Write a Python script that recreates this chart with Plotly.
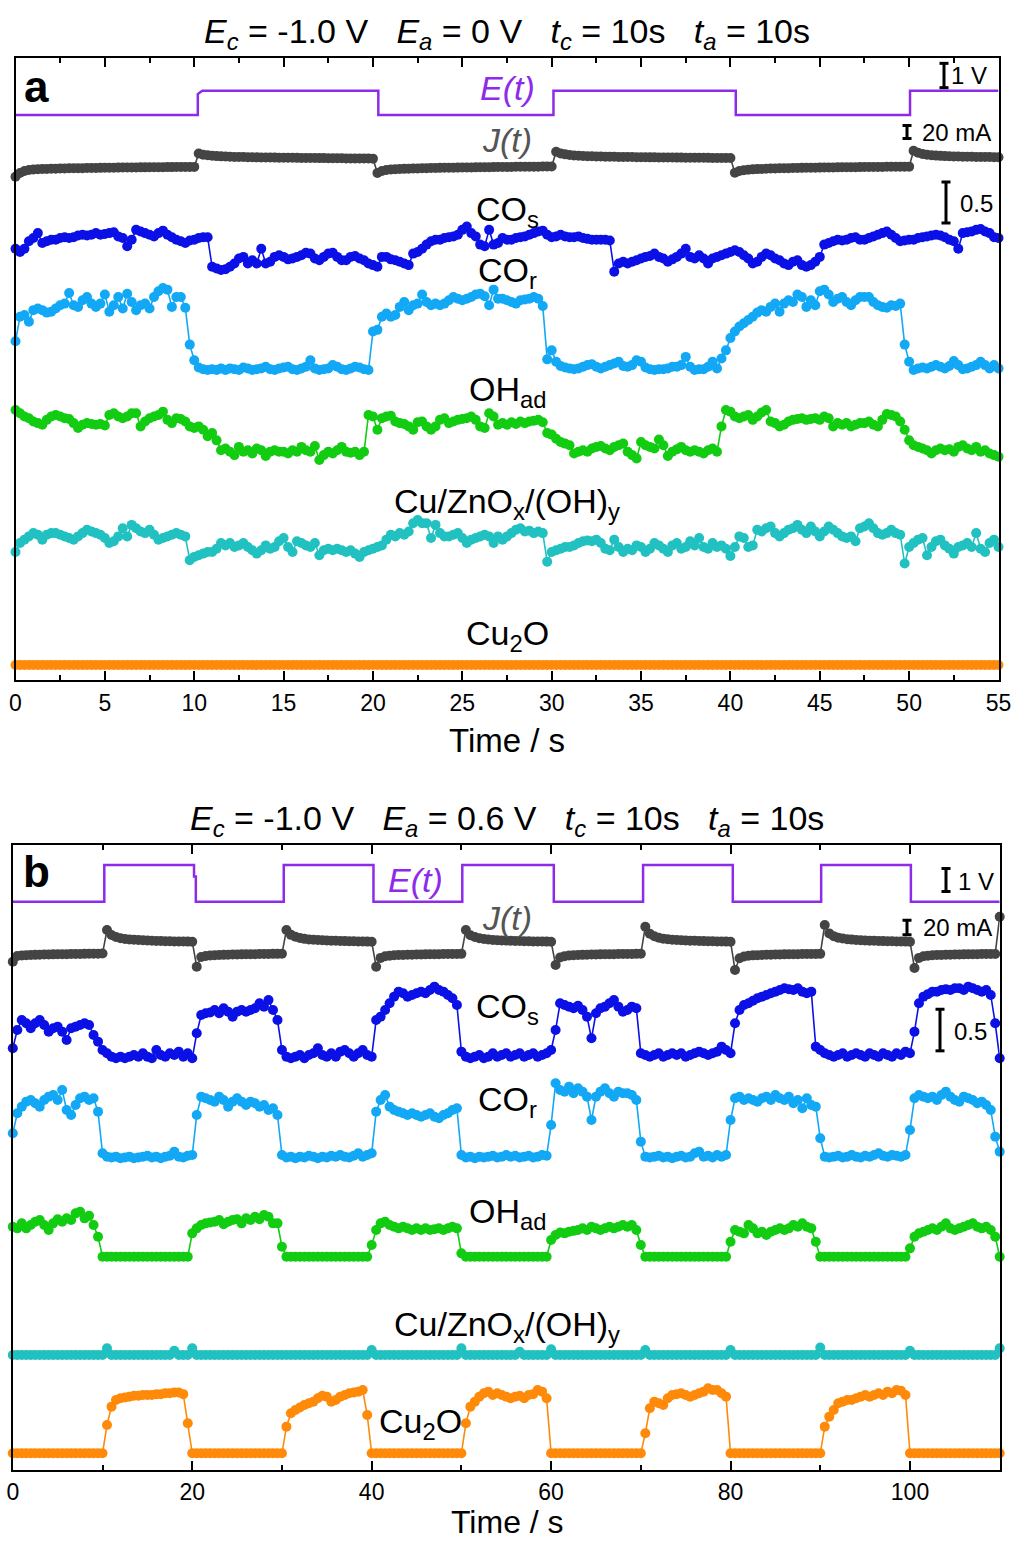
import numpy as np
import plotly.graph_objects as go

W, H = 1014, 1544
FONT = "Liberation Sans, Arial, sans-serif"

# ---------------- sampling ----------------
DT_A, N_A = 0.25, 221          # panel a: 0 ... 55 s
DT_B, N_B = 0.5, 221           # panel b: 0 ... 110 s
TIME_A = np.round(np.arange(N_A) * DT_A, 3)
TIME_B = np.round(np.arange(N_B) * DT_B, 3)

# ---------------- panel a (Ec = -1.0 V, Ea = 0 V) ----------------
# applied potential E(t) in V (step breakpoints)
E_A_T = [0, 10.2, 10.2, 10.45, 20.3, 20.3, 30.1, 30.1, 40.3, 40.3, 50.05, 50.05, 55]
E_A_V = [-1.0, -1.0, -0.14, 0.0, 0.0, -1.0, -1.0, 0.0, 0.0, -1.0, -1.0, 0.0, 0.0]

# current J(t) in mA
J_A = [
    -38.4, -32.7, -29.6, -28.1, -27.3, -27.0, -26.6, -26.5, -26.2, -26.0, -25.8, -25.7,
    -25.5, -25.5, -25.3, -25.2, -25.0, -25.0, -24.9, -24.8, -24.6, -24.6, -24.5, -24.4,
    -24.3, -24.3, -24.2, -24.1, -24.0, -24.0, -23.9, -23.8, -23.7, -23.7, -23.6, -23.6,
    -23.5, -23.5, -23.4, -23.4, -23.3, -2.7, -4.5, -5.5, -6.2, -6.7, -7.1, -7.4,
    -7.7, -7.9, -8.1, -8.2, -8.4, -8.5, -8.6, -8.7, -8.8, -8.9, -9.0, -9.1,
    -9.2, -9.3, -9.3, -9.4, -9.5, -9.6, -9.6, -9.7, -9.8, -9.8, -9.9, -10.0,
    -10.0, -10.1, -10.2, -10.2, -10.3, -10.4, -10.4, -10.5, -10.6, -32.7, -29.6, -28.1,
    -27.3, -26.9, -26.6, -26.3, -26.0, -25.8, -25.6, -25.4, -25.2, -25.1, -25.0, -24.8,
    -24.7, -24.6, -24.5, -24.4, -24.3, -24.2, -24.1, -24.0, -23.9, -23.8, -23.7, -23.6,
    -23.5, -23.4, -23.4, -23.3, -23.2, -23.1, -23.1, -23.0, -22.9, -22.9, -22.8, -22.8,
    -22.7, 0.1, -2.5, -4.0, -5.0, -5.6, -6.1, -6.5, -6.8, -7.0, -7.2, -7.4,
    -7.6, -7.7, -7.8, -7.9, -8.0, -8.1, -8.2, -8.3, -8.4, -8.5, -8.6, -8.6,
    -8.7, -8.8, -8.8, -8.9, -9.0, -9.0, -9.1, -9.2, -9.2, -9.3, -9.3, -9.4,
    -9.5, -9.5, -9.6, -9.6, -9.7, -32.2, -29.6, -28.4, -27.6, -27.1, -26.7, -26.4,
    -26.1, -25.9, -25.7, -25.5, -25.3, -25.2, -25.0, -24.9, -24.8, -24.7, -24.6, -24.5,
    -24.4, -24.3, -24.2, -24.1, -24.0, -23.9, -23.8, -23.8, -23.7, -23.6, -23.5, -23.5,
    -23.4, -23.3, -23.3, -23.2, -23.1, -23.1, -23.0, -23.0, -22.9, 1.6, -1.5, -3.3,
    -4.5, -5.3, -5.9, -6.3, -6.7, -7.0, -7.2, -7.4, -7.6, -7.7, -7.8, -7.9,
    -8.0, -8.1, -8.2, -8.3, -8.4,
]

# normalised band intensities
COS_A = [
    .30, .26, .30, .39, .43, .49, .37, .39, .41, .41, .43, .44, .43, .44, .46, .47,
    .46, .47, .49, .47, .48, .49, .50, .45, .43, .33, .41, .53, .51, .49, .47, .45,
    .49, .52, .47, .44, .41, .39, .37, .40, .41, .43, .44, .44, .08, .06, .04, .05,
    .08, .12, .18, .20, .12, .16, .12, .30, .12, .14, .20, .22, .20, .17, .18, .20,
    .22, .25, .24, .18, .16, .20, .24, .25, .20, .16, .16, .20, .21, .18, .16, .12,
    .10, .08, .20, .20, .17, .16, .14, .12, .10, .24, .26, .30, .35, .39, .41, .41,
    .43, .44, .45, .47, .53, .57, .49, .45, .35, .33, .53, .35, .37, .43, .41, .41,
    .43, .44, .45, .47, .49, .51, .52, .47, .44, .45, .47, .45, .44, .44, .45, .43,
    .42, .41, .41, .41, .41, .40, .02, .12, .14, .12, .14, .16, .18, .20, .21, .24,
    .20, .18, .14, .17, .20, .24, .30, .20, .18, .22, .18, .12, .18, .20, .22, .24,
    .26, .28, .26, .22, .18, .12, .14, .20, .24, .22, .18, .16, .12, .10, .14, .16,
    .10, .08, .10, .14, .20, .35, .37, .39, .41, .40, .41, .43, .44, .41, .41, .43,
    .45, .47, .49, .51, .47, .43, .39, .40, .41, .41, .43, .44, .45, .46, .47, .46,
    .44, .41, .39, .30, .49, .50, .51, .53, .54, .51, .49, .44, .43,
]
COR_A = [
    .39, .69, .71, .63, .77, .79, .77, .74, .75, .79, .83, .85, .98, .83, .81, .89,
    .93, .85, .81, .85, .96, .75, .83, .93, .79, .97, .87, .77, .83, .85, .79, .93,
    1.00, 1.04, 1.02, .81, .93, .93, .80, .35, .16, .07, .05, .04, .05, .04, .06, .04,
    .06, .05, .04, .07, .06, .04, .05, .06, .08, .05, .04, .06, .07, .08, .05, .04,
    .06, .08, .16, .06, .04, .05, .06, .10, .08, .05, .04, .06, .08, .07, .05, .04,
    .51, .53, .69, .73, .69, .71, .81, .87, .77, .83, .85, .96, .87, .83, .85, .83,
    .85, .89, .93, .91, .89, .91, .93, .96, .97, .94, .83, 1.02, .91, .91, .89, .87,
    .85, .89, .90, .91, .93, .91, .82, .17, .28, .14, .09, .07, .06, .05, .06, .08,
    .10, .11, .08, .06, .08, .10, .12, .14, .09, .08, .10, .16, .14, .07, .05, .04,
    .05, .05, .06, .08, .08, .10, .20, .08, .04, .05, .05, .08, .14, .06, .18, .28,
    .43, .51, .57, .61, .65, .69, .74, .77, .75, .81, .85, .75, .85, .89, .87, .96,
    .93, .81, .89, .83, 1.00, 1.02, .96, .87, .91, .93, .87, .83, .89, .93, .93, .93,
    .87, .83, .81, .80, .83, .82, .85, .35, .14, .04, .06, .07, .06, .08, .10, .08,
    .06, .09, .15, .10, .05, .06, .08, .10, .14, .10, .06, .10, .06,
]
OH_A = [
    .65, .61, .57, .55, .51, .49, .47, .53, .57, .59, .57, .55, .54, .49, .43, .47,
    .49, .48, .47, .48, .46, .59, .61, .57, .55, .57, .61, .61, .45, .51, .55, .57,
    .59, .63, .53, .49, .55, .54, .51, .45, .43, .45, .41, .33, .37, .28, .16, .18,
    .14, .10, .20, .14, .16, .12, .18, .16, .09, .14, .16, .14, .14, .12, .16, .14,
    .20, .16, .14, .21, .04, .10, .14, .12, .16, .20, .14, .13, .14, .10, .14, .59,
    .57, .41, .55, .57, .58, .51, .49, .48, .45, .41, .50, .51, .45, .41, .45, .53,
    .55, .49, .51, .53, .54, .55, .57, .53, .45, .43, .61, .57, .47, .49, .47, .50,
    .48, .51, .49, .51, .52, .53, .50, .37, .35, .30, .26, .24, .22, .12, .14, .16,
    .14, .18, .20, .21, .18, .16, .20, .22, .24, .14, .10, .06, .26, .22, .20, .18,
    .29, .22, .09, .14, .17, .20, .16, .14, .16, .14, .12, .16, .18, .14, .45, .65,
    .63, .57, .55, .57, .59, .53, .57, .62, .65, .51, .49, .45, .47, .51, .53, .54,
    .55, .53, .54, .55, .53, .57, .55, .45, .49, .47, .49, .45, .47, .49, .49, .51,
    .47, .45, .53, .60, .59, .57, .51, .41, .28, .22, .20, .18, .16, .12, .16, .18,
    .16, .17, .14, .20, .22, .18, .16, .20, .14, .16, .12, .10, .08,
]
CUZN_A = [
    .22, .33, .37, .41, .45, .43, .37, .43, .45, .45, .43, .41, .39, .37, .41, .45,
    .49, .47, .45, .43, .39, .33, .35, .41, .51, .41, .55, .51, .47, .45, .49, .43,
    .37, .39, .41, .43, .45, .43, .41, .12, .16, .18, .20, .22, .22, .26, .33, .30,
    .33, .28, .30, .33, .28, .24, .20, .24, .30, .26, .28, .35, .39, .28, .22, .35,
    .33, .30, .28, .33, .18, .24, .26, .24, .26, .24, .22, .24, .20, .16, .22, .24,
    .26, .28, .30, .37, .43, .41, .45, .43, .47, .57, .61, .57, .57, .39, .55, .45,
    .41, .41, .43, .45, .39, .33, .37, .39, .41, .43, .41, .33, .41, .37, .41, .45,
    .49, .51, .47, .48, .45, .47, .45, .10, .22, .24, .26, .28, .28, .30, .33, .35,
    .36, .35, .37, .33, .26, .24, .37, .28, .22, .26, .24, .30, .28, .22, .26, .33,
    .30, .26, .22, .30, .33, .26, .28, .35, .30, .39, .28, .26, .33, .28, .30, .26,
    .17, .28, .41, .39, .28, .30, .49, .47, .51, .53, .45, .41, .45, .49, .51, .55,
    .49, .45, .53, .47, .41, .47, .53, .49, .45, .41, .39, .41, .35, .51, .53, .57,
    .51, .45, .43, .45, .49, .45, .43, .08, .28, .33, .37, .39, .18, .28, .35, .37,
    .30, .26, .20, .28, .30, .33, .28, .45, .26, .22, .33, .37, .28,
]
CU2O_A = [
    0, 0, 0, 0, 0, 0, 0, 0, 0, 0, 0, 0, 0, 0, 0, 0, 0, 0, 0, 0,
    0, 0, 0, 0, 0, 0, 0, 0, 0, 0, 0, 0, 0, 0, 0, 0, 0, 0, 0, 0,
    0, 0, 0, 0, 0, 0, 0, 0, 0, 0, 0, 0, 0, 0, 0, 0, 0, 0, 0, 0,
    0, 0, 0, 0, 0, 0, 0, 0, 0, 0, 0, 0, 0, 0, 0, 0, 0, 0, 0, 0,
    0, 0, 0, 0, 0, 0, 0, 0, 0, 0, 0, 0, 0, 0, 0, 0, 0, 0, 0, 0,
    0, 0, 0, 0, 0, 0, 0, 0, 0, 0, 0, 0, 0, 0, 0, 0, 0, 0, 0, 0,
    0, 0, 0, 0, 0, 0, 0, 0, 0, 0, 0, 0, 0, 0, 0, 0, 0, 0, 0, 0,
    0, 0, 0, 0, 0, 0, 0, 0, 0, 0, 0, 0, 0, 0, 0, 0, 0, 0, 0, 0,
    0, 0, 0, 0, 0, 0, 0, 0, 0, 0, 0, 0, 0, 0, 0, 0, 0, 0, 0, 0,
    0, 0, 0, 0, 0, 0, 0, 0, 0, 0, 0, 0, 0, 0, 0, 0, 0, 0, 0, 0,
    0, 0, 0, 0, 0, 0, 0, 0, 0, 0, 0, 0, 0, 0, 0, 0, 0, 0, 0, 0,
    0,
]

# ---------------- panel b (Ec = -1.0 V, Ea = 0.6 V) ----------------
E_B_T = [0, 10.2, 10.2, 20.2, 20.2, 20.4, 20.4, 30.2, 30.2, 40.2, 40.2, 50.1,
         50.1, 60.3, 60.3, 70.25, 70.25, 80.25, 80.25, 90.1, 90.1, 100.1, 100.1, 110]
E_B_V = [-1.0, -1.0, 0.6, 0.6, 0.1, 0.1, -1.0, -1.0, 0.6, 0.6, -1.0, -1.0,
         0.6, 0.6, -1.0, -1.0, 0.6, 0.6, -1.0, -1.0, 0.6, 0.6, -1.0, -1.0]

J_B = [
    -34.3, -26.4, -25.7, -25.2, -25.0, -24.8, -24.6, -24.4, -24.3, -24.1, -24.0,
    -23.9, -23.8, -23.7, -23.6, -23.5, -23.4, -23.3, -23.2, -23.1, -23.0,
    9.7, 2.8, 0.0, -1.8, -2.8, -3.5, -3.9, -4.2, -4.6, -4.9,
    -5.2, -5.4, -5.6, -5.8, -5.9, -6.1, -6.2, -6.3, -6.4, -6.5,
    -41.3, -27.8, -26.4, -25.7, -25.3, -25.0, -24.8, -24.6, -24.4, -24.3,
    -24.1, -24.0, -23.9, -23.8, -23.7, -23.6, -23.5, -23.4, -23.4, -23.3,
    9.7, 3.0, 0.3, -1.5, -2.6, -3.3, -3.8, -4.2, -4.5, -4.8,
    -5.1, -5.3, -5.5, -5.7, -5.9, -6.0, -6.2, -6.3, -6.4, -6.5,
    -41.3, -29.0, -26.8, -25.9, -25.4, -25.1, -24.9, -24.7, -24.5, -24.4,
    -24.2, -24.1, -24.0, -23.9, -23.8, -23.7, -23.6, -23.5, -23.5, -23.4,
    9.7, 2.5, 0.0, -1.7, -2.8, -3.5, -4.0, -4.4, -4.7, -5.0,
    -5.2, -5.4, -5.6, -5.8, -5.9, -6.1, -6.2, -6.3, -6.4, -6.5,
    -38.9, -28.5, -26.6, -25.8, -25.3, -25.0, -24.8, -24.6, -24.4, -24.3,
    -24.1, -24.0, -23.9, -23.8, -23.7, -23.6, -23.5, -23.5, -23.4, -23.3,
    14.3, 4.5, 1.0, -1.0, -2.3, -3.1, -3.7, -4.1, -4.5, -4.8,
    -5.1, -5.3, -5.5, -5.7, -5.9, -6.0, -6.2, -6.3, -6.4, -6.5,
    -45.8, -29.5, -27.0, -26.0, -25.5, -25.2, -24.9, -24.7, -24.5, -24.4,
    -24.2, -24.1, -24.0, -23.9, -23.8, -23.7, -23.6, -23.5, -23.5, -23.4,
    16.7, 5.0, 1.2, -0.9, -2.2, -3.0, -3.6, -4.1, -4.5, -4.8,
    -5.1, -5.3, -5.5, -5.7, -5.9, -6.0, -6.2, -6.3, -6.4, -6.5,
    -43.0, -29.0, -26.8, -25.9, -25.4, -25.1, -24.9, -24.7, -24.5, -24.4,
    -24.2, -24.1, -24.0, -23.9, -23.8, -23.7, -23.6, -23.5, -23.5, 28.2,
]
COS_B = [
    .18, .40, .52, .48, .42, .48, .52, .46, .38, .42, .44, .38, .28, .42, .44, .46, .48, .46, .34, .26,
    .16, .12, .08, .06, .08, .06, .08, .10, .08, .12, .08, .06, .16, .10, .08, .12, .10, .14, .08, .12,
    .06, .36, .58, .60, .61, .64, .60, .66, .62, .56, .62, .64, .62, .64, .66, .72, .68, .76, .64, .52,
    .16, .08, .06, .08, .10, .06, .10, .12, .18, .10, .08, .12, .08, .14, .16, .12, .08, .12, .16, .10,
    .08, .52, .56, .64, .72, .80, .86, .84, .80, .82, .84, .86, .84, .88, .92, .88, .86, .82, .78, .70,
    .14, .08, .06, .08, .10, .06, .08, .12, .08, .10, .12, .08, .10, .12, .08, .10, .12, .08, .10, .12,
    .16, .40, .72, .70, .68, .66, .69, .64, .56, .30, .60, .66, .68, .72, .76, .68, .62, .64, .68, .66,
    .12, .10, .08, .10, .12, .08, .10, .12, .10, .12, .08, .10, .12, .14, .12, .10, .12, .14, .20, .16,
    .12, .48, .64, .70, .72, .75, .78, .80, .82, .84, .86, .88, .90, .89, .88, .90, .86, .84, .86, .20,
    .16, .12, .10, .08, .10, .12, .08, .10, .12, .10, .08, .12, .10, .08, .12, .10, .08, .12, .10, .14,
    .12, .38, .72, .80, .83, .86, .86, .88, .89, .88, .90, .90, .88, .92, .90, .88, .86, .88, .82, .48,
    .06,
]
COR_B = [
    .36, .60, .68, .74, .76, .72, .68, .76, .80, .82, .76, .88, .64, .58, .70, .78, .80, .76, .78, .62,
    .12, .08, .07, .08, .06, .07, .08, .06, .07, .08, .09, .07, .08, .06, .08, .09, .14, .08, .07, .09,
    .10, .58, .80, .78, .76, .74, .80, .76, .68, .74, .78, .74, .70, .74, .72, .68, .70, .64, .66, .58,
    .10, .07, .08, .06, .08, .07, .09, .08, .06, .08, .07, .09, .08, .10, .08, .07, .09, .12, .08, .10,
    .12, .62, .76, .82, .68, .64, .62, .60, .58, .60, .58, .56, .58, .60, .56, .54, .58, .60, .64, .66,
    .10, .07, .08, .06, .08, .07, .08, .09, .07, .08, .10, .08, .09, .07, .08, .09, .07, .08, .10, .09,
    .46, .96, .88, .86, .92, .84, .90, .86, .80, .52, .80, .86, .90, .84, .80, .86, .84, .84, .82, .76,
    .26, .08, .07, .08, .09, .07, .08, .06, .08, .09, .07, .08, .12, .14, .08, .09, .07, .10, .08, .10,
    .52, .78, .80, .76, .78, .76, .74, .78, .80, .76, .82, .78, .76, .80, .72, .76, .66, .78, .70, .68,
    .30, .08, .07, .08, .09, .07, .08, .10, .08, .07, .09, .08, .10, .12, .09, .08, .10, .09, .08, .10,
    .40, .78, .82, .80, .78, .80, .76, .82, .86, .80, .76, .74, .80, .78, .76, .72, .74, .70, .64, .32,
    .14,
]
OH_B = [
    .40, .38, .44, .38, .42, .46, .48, .42, .36, .44, .49, .46, .50, .48, .56, .58, .50, .53, .42, .28,
    .04, .04, .04, .04, .04, .04, .04, .04, .04, .04, .04, .04, .04, .04, .04, .04, .04, .04, .04, .04,
    .32, .38, .42, .44, .45, .46, .48, .43, .46, .48, .49, .44, .50, .48, .52, .49, .54, .52, .44, .44,
    .16, .04, .04, .04, .04, .04, .04, .04, .04, .04, .04, .04, .04, .04, .04, .04, .04, .04, .04, .04,
    .18, .36, .44, .46, .42, .40, .38, .40, .38, .36, .38, .36, .38, .36, .37, .38, .36, .38, .40, .38,
    .08, .04, .04, .04, .04, .04, .04, .04, .04, .04, .04, .04, .04, .04, .04, .04, .04, .04, .04, .04,
    .24, .30, .33, .32, .34, .35, .36, .38, .36, .40, .38, .36, .38, .40, .38, .40, .42, .40, .42, .36,
    .18, .04, .04, .04, .04, .04, .04, .04, .04, .04, .04, .04, .04, .04, .04, .04, .04, .04, .04, .04,
    .22, .36, .34, .32, .42, .38, .32, .34, .30, .34, .36, .38, .36, .38, .42, .40, .44, .40, .38, .22,
    .04, .04, .04, .04, .04, .04, .04, .04, .04, .04, .04, .04, .04, .04, .04, .04, .04, .04, .04, .04,
    .14, .28, .32, .34, .36, .38, .36, .40, .44, .38, .36, .38, .40, .42, .44, .40, .38, .40, .36, .28,
    .04,
]
CUZN_B = [
    0, 0, 0, 0, 0, 0, 0, 0, 0, 0, 0, 0, 0, 0, 0, 0, 0, 0, 0, 0,
    0, .08, 0, 0, 0, 0, 0, 0, 0, 0, 0, 0, 0, 0, 0, 0, .05, 0, 0, 0,
    .08, 0, 0, 0, 0, 0, 0, 0, 0, 0, 0, 0, 0, 0, 0, 0, 0, 0, 0, 0,
    0, 0, 0, 0, 0, 0, 0, 0, 0, 0, 0, 0, 0, 0, 0, 0, 0, 0, 0, 0,
    .06, 0, 0, 0, 0, 0, 0, 0, 0, 0, 0, 0, 0, 0, 0, 0, 0, 0, 0, 0,
    .08, 0, 0, 0, 0, 0, 0, 0, 0, 0, 0, 0, 0, .04, 0, 0, 0, 0, 0, 0,
    .07, 0, 0, 0, 0, 0, 0, 0, 0, 0, 0, 0, 0, 0, 0, 0, 0, 0, 0, 0,
    0, .06, 0, 0, 0, 0, 0, 0, 0, 0, 0, 0, 0, 0, 0, 0, 0, 0, 0, 0,
    .06, 0, 0, 0, 0, 0, 0, 0, 0, 0, 0, 0, 0, 0, 0, 0, 0, 0, 0, 0,
    .09, 0, 0, 0, 0, 0, 0, 0, 0, 0, 0, 0, 0, 0, 0, 0, 0, 0, 0, 0,
    .05, 0, 0, 0, 0, 0, 0, 0, 0, 0, 0, 0, 0, 0, 0, 0, 0, 0, 0, 0,
    .08,
]
CU2O_B = [
    0, 0, 0, 0, 0, 0, 0, 0, 0, 0, 0, 0, 0, 0, 0, 0, 0, 0, 0, 0,
    0, .34, .56, .64, .66, .67, .68, .69, .69, .70, .70, .70, .71, .71, .72, .72, .73, .73, .71, .36,
    0, 0, 0, 0, 0, 0, 0, 0, 0, 0, 0, 0, 0, 0, 0, 0, 0, 0, 0, 0,
    0, .32, .48, .52, .55, .58, .60, .62, .66, .69, .68, .62, .64, .68, .70, .72, .73, .74, .76, .46,
    0, 0, 0, 0, 0, 0, 0, 0, 0, 0, 0, 0, 0, 0, 0, 0, 0, 0, 0, 0,
    0, .36, .56, .62, .68, .72, .74, .70, .72, .70, .68, .66, .68, .69, .66, .70, .71, .76, .74, .66,
    0, 0, 0, 0, 0, 0, 0, 0, 0, 0, 0, 0, 0, 0, 0, 0, 0, 0, 0, 0,
    0, .24, .54, .62, .60, .58, .66, .70, .71, .72, .70, .68, .70, .72, .74, .78, .76, .76, .72, .68,
    0, 0, 0, 0, 0, 0, 0, 0, 0, 0, 0, 0, 0, 0, 0, 0, 0, 0, 0, 0,
    0, .32, .44, .52, .60, .62, .64, .64, .66, .68, .70, .68, .70, .72, .70, .74, .72, .76, .75, .70,
    0, 0, 0, 0, 0, 0, 0, 0, 0, 0, 0, 0, 0, 0, 0, 0, 0, 0, 0, 0,
    0,
]

for arr in (J_A, COS_A, COR_A, OH_A, CUZN_A, CU2O_A):
    assert len(arr) == N_A, len(arr)
for arr in (J_B, COS_B, COR_B, OH_B, CUZN_B, CU2O_B):
    assert len(arr) == N_B, len(arr)

# ---------------- styling ----------------
C_E = "#8E2BEA"
C_J = "#444444"
C_COS = "#0A10E6"
C_COR = "#12A8F5"
C_OH = "#12CC12"
C_CUZN = "#22C1C1"
C_CU2O = "#FF8A0A"
MARKER = 10

# vertical placement of each trace in a panel: (zero level, pixels per unit)
LAYOUT_A = {
    "E": (589.3, 24.3), "J": (528.25, 0.65), "COs": (406.7, 82), "COr": (306.7, 82),
    "OH": (216.7, 82), "CuZn": (110.0, 82), "Cu2O": (15.0, 82),
}
LAYOUT_B = {
    "E": (590.7, 22.9), "J": (532.5, 0.72), "COs": (406.2, 83.3), "COr": (306.2, 83.3),
    "OH": (209.5, 83.3), "CuZn": (114.5, 83.3), "Cu2O": (16.2, 83.3),
}

fig = go.Figure()


def add_series(t, vals, place, color, xa, ya, markers=True):
    zero, k = place
    y = zero + k * np.asarray(vals, dtype=float)
    fig.add_trace(go.Scatter(
        x=t, y=y, xaxis=xa, yaxis=ya,
        mode="lines+markers" if markers else "lines",
        line=dict(color=color, width=1.6 if markers else 2.5),
        marker=dict(size=MARKER, color=color),
        cliponaxis=False, showlegend=False, hoverinfo="skip",
    ))


def panel(t, e_t, e_v, j, cos, cor, oh, cuzn, cu2o, lay, xa, ya):
    add_series(e_t, e_v, lay["E"], C_E, xa, ya, markers=False)
    add_series(t, j, lay["J"], C_J, xa, ya)
    add_series(t, cos, lay["COs"], C_COS, xa, ya)
    add_series(t, cor, lay["COr"], C_COR, xa, ya)
    add_series(t, oh, lay["OH"], C_OH, xa, ya)
    add_series(t, cuzn, lay["CuZn"], C_CUZN, xa, ya)
    add_series(t, cu2o, lay["Cu2O"], C_CU2O, xa, ya)


panel(TIME_A, E_A_T, E_A_V, J_A, COS_A, COR_A, OH_A, CUZN_A, CU2O_A, LAYOUT_A, "x", "y")
panel(TIME_B, E_B_T, E_B_V, J_B, COS_B, COR_B, OH_B, CUZN_B, CU2O_B, LAYOUT_B, "x2", "y2")


def pp(x, y):
    return x / W, 1 - y / H


shapes, annotations = [], []


def scale_bar(x_px, center, value, k, yref, label, label_x, label_y):
    h = value * k
    xp = x_px / W
    cap = 4.5 / W
    line = dict(color="black", width=3)
    shapes.append(dict(type="line", xref="paper", yref=yref, x0=xp, x1=xp,
                       y0=center - h / 2, y1=center + h / 2, line=line))
    for yy in (center - h / 2, center + h / 2):
        shapes.append(dict(type="line", xref="paper", yref=yref, x0=xp - cap, x1=xp + cap,
                           y0=yy, y1=yy, line=line))
    ax, ay = pp(label_x, label_y)
    annotations.append(dict(text=label, x=ax, y=ay, xref="paper", yref="paper",
                            xanchor="left", yanchor="middle", showarrow=False,
                            font=dict(size=24, color="black", family=FONT)))


# panel a scale bars
scale_bar(944, 604.5, 1.0, LAYOUT_A["E"][1], "y", "1 V", 949, 76)
scale_bar(907, 548.0, 20, LAYOUT_A["J"][1], "y", "20 mA", 920, 133)
scale_bar(946, 477.5, 0.5, LAYOUT_A["COs"][1], "y", "0.5", 958, 203)
# panel b scale bars
scale_bar(946, 589.5, 1.0, LAYOUT_B["E"][1], "y2", "1 V", 956, 881)
scale_bar(907, 542.0, 20, LAYOUT_B["J"][1], "y2", "20 mA", 921, 927)
scale_bar(940, 439.5, 0.5, LAYOUT_B["COs"][1], "y2", "0.5", 952, 1031)


def text(s, x, y, size=34, color="black", anchor="center"):
    ax, ay = pp(x, y)
    annotations.append(dict(text=s, x=ax, y=ay, xref="paper", yref="paper",
                            xanchor=anchor, yanchor="middle", showarrow=False,
                            font=dict(size=size, color=color, family=FONT)))


SP = "\u00a0" * 3
TITLE_A = (f"<i>E</i><sub><i>c</i></sub> = -1.0 V{SP}<i>E</i><sub><i>a</i></sub> = 0 V{SP}"
           f"<i>t</i><sub><i>c</i></sub> = 10s{SP}<i>t</i><sub><i>a</i></sub> = 10s")
TITLE_B = (f"<i>E</i><sub><i>c</i></sub> = -1.0 V{SP}<i>E</i><sub><i>a</i></sub> = 0.6 V{SP}"
           f"<i>t</i><sub><i>c</i></sub> = 10s{SP}<i>t</i><sub><i>a</i></sub> = 10s")

text(TITLE_A, 507, 34, size=34)
text(TITLE_B, 507, 820, size=34)
text("<b>a</b>", 36, 87, size=44)
text("<b>b</b>", 36, 871, size=44)

# series names, panel a
text("<i>E(t)</i>", 507, 88, size=34, color=C_E)
text("<i>J(t)</i>", 507, 140, size=34, color="#555555")
text("CO<sub>s</sub>", 507, 211, size=34)
text("CO<sub>r</sub>", 507, 273, size=34)
text("OH<sub>ad</sub>", 507, 391, size=34)
text("Cu/ZnO<sub>x</sub>/(OH)<sub>y</sub>", 507, 503, size=34)
text("Cu<sub>2</sub>O", 507, 635, size=34)
# series names, panel b
text("<i>E(t)</i>", 415, 880, size=34, color=C_E)
text("<i>J(t)</i>", 507, 918, size=34, color="#555555")
text("CO<sub>s</sub>", 507, 1008, size=34)
text("CO<sub>r</sub>", 507, 1101, size=34)
text("OH<sub>ad</sub>", 507, 1213, size=34)
text("Cu/ZnO<sub>x</sub>/(OH)<sub>y</sub>", 507, 1326, size=34)
text("Cu<sub>2</sub>O", 420, 1423, size=34)

# axis titles
text("Time / s", 507, 741, size=33)
text("Time / s", 507, 1522, size=32)


def xaxis(domain, rng, dtick, minor, anchor):
    return dict(domain=domain, range=rng, anchor=anchor, automargin=False,
                showline=True, linecolor="black",
                linewidth=2, mirror="ticks", ticks="inside", ticklen=9, tickwidth=2,
                tickcolor="black", tick0=0, dtick=dtick,
                minor=dict(dtick=minor, ticks="inside", ticklen=5, tickwidth=1.5,
                           tickcolor="black", showgrid=False),
                showgrid=False, zeroline=False, ticklabelstandoff=1,
                tickfont=dict(size=23, family=FONT, color="black"))


def yaxis(domain, rng, anchor):
    return dict(domain=domain, range=rng, anchor=anchor, automargin=False,
                showline=True, linecolor="black",
                linewidth=2, mirror=True, ticks="", showticklabels=False,
                showgrid=False, zeroline=False)


fig.update_layout(
    width=W, height=H, autosize=False,
    margin=dict(l=0, r=0, t=0, b=0, pad=0),
    paper_bgcolor="white", plot_bgcolor="white",
    xaxis=xaxis([15.5 / W, 998.5 / W], [0, 55], 5, 2.5, "y"),
    yaxis=yaxis([1 - 680 / H, 1 - 58 / H], [0, 622], "x"),
    xaxis2=xaxis([12.8 / W, 999.7 / W], [0, 110], 20, 10, "y2"),
    yaxis2=yaxis([1 - 1469.5 / H, 1 - 844.5 / H], [0, 625], "x2"),
    shapes=shapes, annotations=annotations,
    font=dict(family=FONT, color="black"),
)

fig.write_html("out.html")
